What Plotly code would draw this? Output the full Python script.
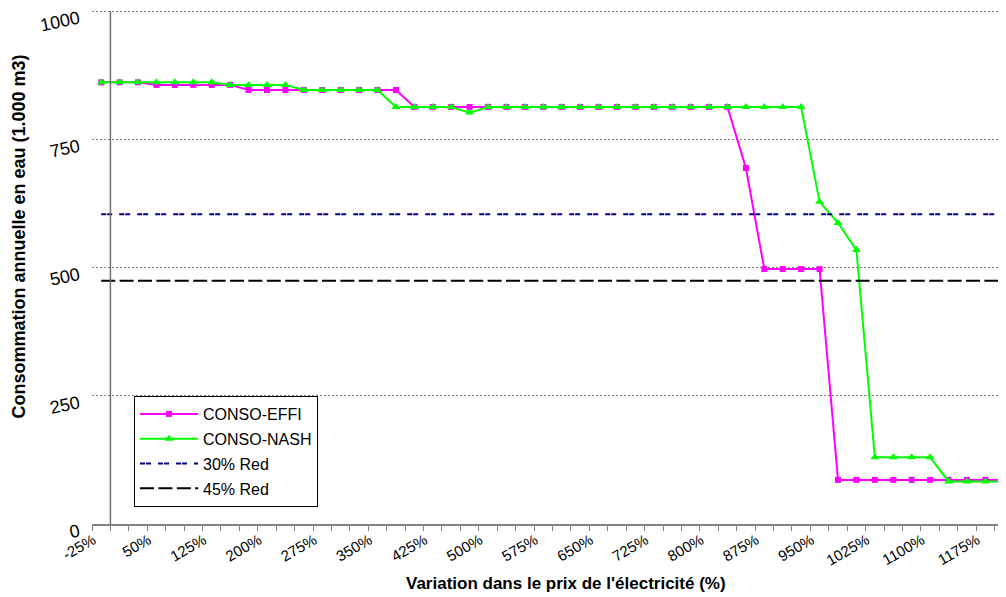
import plotly.graph_objects as go

# price variation categories (%)
variation = [-25, 0, 25, 50, 75, 100, 125, 150, 175, 200,
             225, 250, 275, 300, 325, 350, 375, 400, 425, 450,
             475, 500, 525, 550, 575, 600, 625, 650, 675, 700,
             725, 750, 775, 800, 825, 850, 875, 900, 925, 950,
             975, 1000, 1025, 1050, 1075, 1100, 1125, 1150, 1175, 1200]

# annual water consumption (1.000 m3)
conso_effi = [861, 861, 861, 856, 856, 856, 856, 856, 846, 846,
              846, 846, 846, 846, 846, 846, 846, 813, 813, 813,
              813, 813, 813, 813, 813, 813, 813, 813, 813, 813,
              813, 813, 813, 813, 813, 694, 497, 497, 497, 497,
              86, 86, 86, 86, 86, 86, 86, 86, 86, 86]
conso_nash = [861, 861, 861, 861, 861, 861, 861, 856, 856, 856,
              856, 846, 846, 846, 846, 846, 813, 813, 813, 813,
              802, 813, 813, 813, 813, 813, 813, 813, 813, 813,
              813, 813, 813, 813, 813, 813, 813, 813, 813, 628,
              587, 534, 130, 130, 130, 130, 83, 83, 83, 83]

red30 = 604
red45 = 474

tick_vals = [-25, 50, 125, 200, 275, 350, 425, 500, 575, 650,
             725, 800, 875, 950, 1025, 1100, 1175]
tick_text = [f"{v}%" for v in tick_vals]

font = dict(family="Arial, Liberation Sans, sans-serif", color="black")
grey = "#808080"

fig = go.Figure()
fig.add_trace(go.Scatter(x=variation, y=conso_effi, name="CONSO-EFFI", mode="lines+markers",
                         line=dict(color="#FF00FF", width=2),
                         marker=dict(symbol="square", size=6, color="#FF00FF"),
                         legendgroup="a"))
fig.add_trace(go.Scatter(x=variation, y=conso_nash, name="CONSO-NASH", mode="lines+markers",
                         line=dict(color="#00FF00", width=2),
                         marker=dict(symbol="triangle-up", size=8, color="#00FF00"),
                         legendgroup="b"))
fig.add_trace(go.Scatter(x=[variation[0], variation[-1]], y=[red30, red30], name="30% Red", mode="lines",
                         line=dict(color="#000080", width=2, dash="5px,1px,5px,7px"),
                         legendgroup="c"))
fig.add_trace(go.Scatter(x=[variation[0], variation[-1]], y=[red45, red45], name="45% Red", mode="lines",
                         line=dict(color="black", width=2, dash="14px,4.4px"),
                         legendgroup="d"))

# vertical axis line crosses between the first two categories
fig.add_shape(type="line", xref="x", yref="y", x0=-12.5, x1=-12.5, y0=0, y1=1000,
              line=dict(color="#707070", width=1.5))

# axis titles
fig.add_annotation(text="<b>Consommation annuelle en eau (1.000 m3)</b>", textangle=-90,
                   xref="paper", yref="paper", x=-0.080, y=0.559, xanchor="center", yanchor="middle",
                   showarrow=False, font=dict(size=18, **font))
fig.add_annotation(text="<b>Variation dans le prix de l'électricité (%)</b>",
                   xref="paper", yref="paper", x=0.5186, y=-0.115, xanchor="center", yanchor="middle",
                   showarrow=False, font=dict(size=17, **font))

# page body has an 8px margin, so the figure is sized to fit the 1006x597 window
fig.update_layout(
    width=998, height=589,
    margin=dict(l=84, r=0, t=2, b=73),
    plot_bgcolor="white", paper_bgcolor="white",
    font=dict(size=12, **font),
    showlegend=True,
    legend=dict(x=0.046, y=0.249, xanchor="left", yanchor="top",
                bordercolor="black", borderwidth=1, bgcolor="white", itemwidth=58,
                font=dict(size=16, **font), tracegroupgap=1),
    xaxis=dict(range=[-37.5, 1203], tickvals=tick_vals, ticktext=tick_text,
               tickangle=-30, ticks="", showgrid=False, zeroline=False, automargin=False,
               showline=True, linecolor=grey, linewidth=1.5, ticklabelshift=-8,
               tickfont=dict(size=15, **font),
               minor=dict(ticks="outside", tick0=-12.5, dtick=25, ticklen=5,
                          tickcolor=grey, tickwidth=1, showgrid=False)),
    yaxis=dict(range=[0, 1002], tickvals=[0, 250, 500, 750, 1000], automargin=False,
               showgrid=True, gridcolor=grey, griddash="2px,2px", gridwidth=1,
               zeroline=False, ticks="", tickangle=-12, ticklabelshift=6,
               ticklabeloverflow="allow",
               ticklabelstandoff=12, tickfont=dict(size=18, **font)),
)

fig.write_html("out.html")
